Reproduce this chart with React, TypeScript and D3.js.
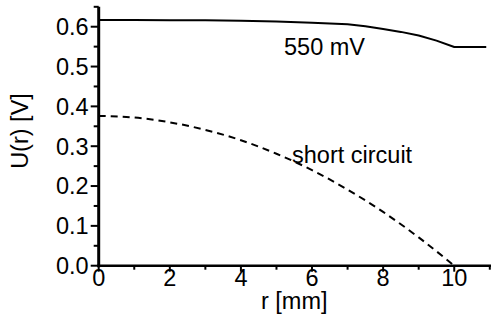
import React from "react";
import * as d3 from "d3";

const rSolid = [0, 1, 2, 3, 4, 5, 6, 7, 7.5, 8, 8.5, 9, 9.5, 10, 10.9];
const uSolid = [0.617, 0.617, 0.616, 0.616, 0.615, 0.613, 0.61, 0.606, 0.601, 0.594, 0.587, 0.578, 0.565, 0.549, 0.549];

const rDashed = [0, 1, 2, 3, 4, 5, 6, 7, 8, 9, 10];
const uDashed = [0.376, 0.372, 0.36, 0.341, 0.315, 0.281, 0.24, 0.191, 0.135, 0.071, 0.0];

const xTicks = [0, 2, 4, 6, 8, 10];
const xMinor = [1, 3, 5, 7, 9, 11];
const yTicks = [0.0, 0.1, 0.2, 0.3, 0.4, 0.5, 0.6];
const yMinor = [0.05, 0.15, 0.25, 0.35, 0.45, 0.55, 0.65];

const W = 491;
const H = 320;
const FONT = "'Liberation Sans', Arial, sans-serif";
const FS = 23.5;

export default function App() {
  const x = d3.scaleLinear().domain([0, 11]).range([98.7, 489.8]);
  const y = d3.scaleLinear().domain([0, 0.65]).range([265.7, 6.8]);
  const solidLine = d3
    .line<[number, number]>()
    .x((d) => x(d[0]))
    .y((d) => y(d[1]))
    .curve(d3.curveLinear);
  const dashLine = d3
    .line<[number, number]>()
    .x((d) => x(d[0]))
    .y((d) => y(d[1]))
    .curve(d3.curveMonotoneX);
  const solid = solidLine(rSolid.map((r, i) => [r, uSolid[i]]) as [number, number][]) || "";
  const dashed = dashLine(rDashed.map((r, i) => [r, uDashed[i]]) as [number, number][]) || "";
  const x0 = x(0);
  const y0 = y(0);
  return (
    <svg
      width={W}
      height={H}
      style={{ position: "absolute", left: 0, top: 0, background: "#fff" }}
      fontFamily={FONT}
    >
      <rect x={0} y={0} width={W} height={H} fill="#fff" />
      <path d={solid} fill="none" stroke="#000" strokeWidth={2} strokeLinejoin="round" />
      <path d={dashed} fill="none" stroke="#000" strokeWidth={2} strokeDasharray="7,5" />
      {/* axes */}
      <line x1={x0} x2={x0} y1={y(0.65)} y2={y0 + 1.5} stroke="#000" strokeWidth={3} />
      <line x1={x0 - 1.5} x2={W} y1={y0} y2={y0} stroke="#000" strokeWidth={2.5} />
      {yTicks.map((t) => (
        <g key={"y" + t}>
          <line x1={x0 - 8} x2={x0} y1={y(t)} y2={y(t)} stroke="#000" strokeWidth={2} />
          <text x={x0 - 10} y={y(t)} dy="0.36em" textAnchor="end" fontSize={FS} fill="#000">
            {d3.format(".1f")(t)}
          </text>
        </g>
      ))}
      {yMinor.map((t) => (
        <line key={"ym" + t} x1={x0 - 5} x2={x0} y1={y(t)} y2={y(t)} stroke="#000" strokeWidth={2} />
      ))}
      {xTicks.map((t) => (
        <g key={"x" + t}>
          <line x1={x(t)} x2={x(t)} y1={y0} y2={y0 + 6} stroke="#000" strokeWidth={2} />
          <text x={x(t)} y={286} textAnchor="middle" fontSize={FS} fill="#000">
            {t}
          </text>
        </g>
      ))}
      {xMinor.map((t) => (
        <line key={"xm" + t} x1={x(t)} x2={x(t)} y1={y0} y2={y0 + 4} stroke="#000" strokeWidth={2} />
      ))}
      <text x={x(5.5)} y={309} textAnchor="middle" fontSize={FS} fill="#000">
        r [mm]
      </text>
      <text
        transform={`translate(28,131) rotate(-90)`}
        textAnchor="middle"
        fontSize={FS}
        fill="#000"
      >
        U(r) [V]
      </text>
      <text x={284} y={55} fontSize={FS} fill="#000">
        550 mV
      </text>
      <text x={292} y={163} fontSize={FS} fill="#000">
        short circuit
      </text>
    </svg>
  );
}
